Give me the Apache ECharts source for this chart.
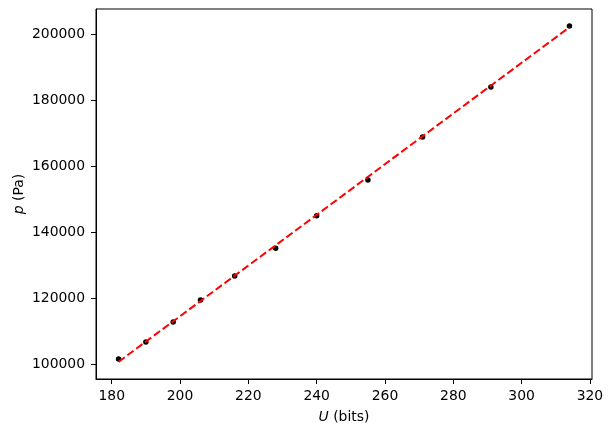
<!DOCTYPE html>
<html>
<head>
<meta charset="utf-8">
<script src="https://cdn.jsdelivr.net/npm/echarts@6/dist/echarts.min.js"></script>
<style>
  html, body { margin: 0; padding: 0; background: #fff; }
  #chart { width: 613px; height: 434px; }
</style>
</head>
<body>
<div id="chart"></div>
<script>
// measured points: U in bits, p in Pa
const uBits = [182, 190, 198, 206, 216, 228, 240, 255, 271, 291, 314];
const pPa = [101600, 106800, 112850, 119550, 126800, 135250, 145050, 155900, 169000, 184100, 202650];

// fitted line end points
const fitU = [182, 314];
const fitP = [100750, 202250];

const xTicks = [180, 200, 220, 240, 260, 280, 300, 320];
const yTicks = [100000, 120000, 140000, 160000, 180000, 200000];

const chart = echarts.init(document.getElementById('chart'));

const font = 'DejaVu Sans';
const axisCommon = {
    axisLine: { show: true, lineStyle: { color: '#000', width: 1 } },
    axisTick: { show: true, inside: false, length: 5, lineStyle: { color: '#000', width: 1 } },
    splitLine: { show: false },
};

chart.setOption({
    animation: false,
    textStyle: { fontFamily: font },
    grid: {
        left: 96, right: 21, top: 9, bottom: 55,
        outerBoundsMode: 'none',
        containLabel: false,
        show: true, borderColor: '#000', borderWidth: 1,
    },
    xAxis: {
        type: 'value',
        min: 175.4,
        max: 320.6,
        ...axisCommon,
        axisTick: { ...axisCommon.axisTick, customValues: xTicks },
        axisLabel: {
            customValues: xTicks, color: '#000', fontSize: 13.9, fontFamily: font, margin: 10,
            formatter: v => String(v),
        },
        name: '{i|U} (bits)',
        nameLocation: 'middle',
        nameGap: 31,
        nameMoveOverlap: false,
        nameTextStyle: {
            color: '#000', fontSize: 13.9, fontFamily: font,
            rich: { i: { fontStyle: 'italic', fontSize: 13.9, fontFamily: font, color: '#000' } },
        },
    },
    yAxis: {
        type: 'value',
        min: 95550,
        max: 207800,
        ...axisCommon,
        axisTick: { ...axisCommon.axisTick, customValues: yTicks },
        axisLabel: {
            customValues: yTicks, color: '#000', fontSize: 13.9, fontFamily: font, margin: 11,
            formatter: v => String(v),
        },
        name: '{i|p} (Pa)',
        nameLocation: 'middle',
        nameGap: 70,
        nameMoveOverlap: false,
        nameTextStyle: {
            color: '#000', fontSize: 13.9, fontFamily: font,
            rich: { i: { fontStyle: 'italic', fontSize: 13.9, fontFamily: font, color: '#000' } },
        },
    },
    series: [
        {
            type: 'scatter',
            data: uBits.map((u, i) => [u, pPa[i]]),
            symbol: 'circle',
            symbolSize: 5.5,
            itemStyle: { color: '#000', opacity: 1 },
            z: 2,
        },
        {
            type: 'line',
            data: fitU.map((u, i) => [u, fitP[i]]),
            symbol: 'none',
            lineStyle: { color: '#ff0000', width: 2, type: [7.7, 3.3] },
            z: 3,
        },
    ],
});
</script>
</body>
</html>
